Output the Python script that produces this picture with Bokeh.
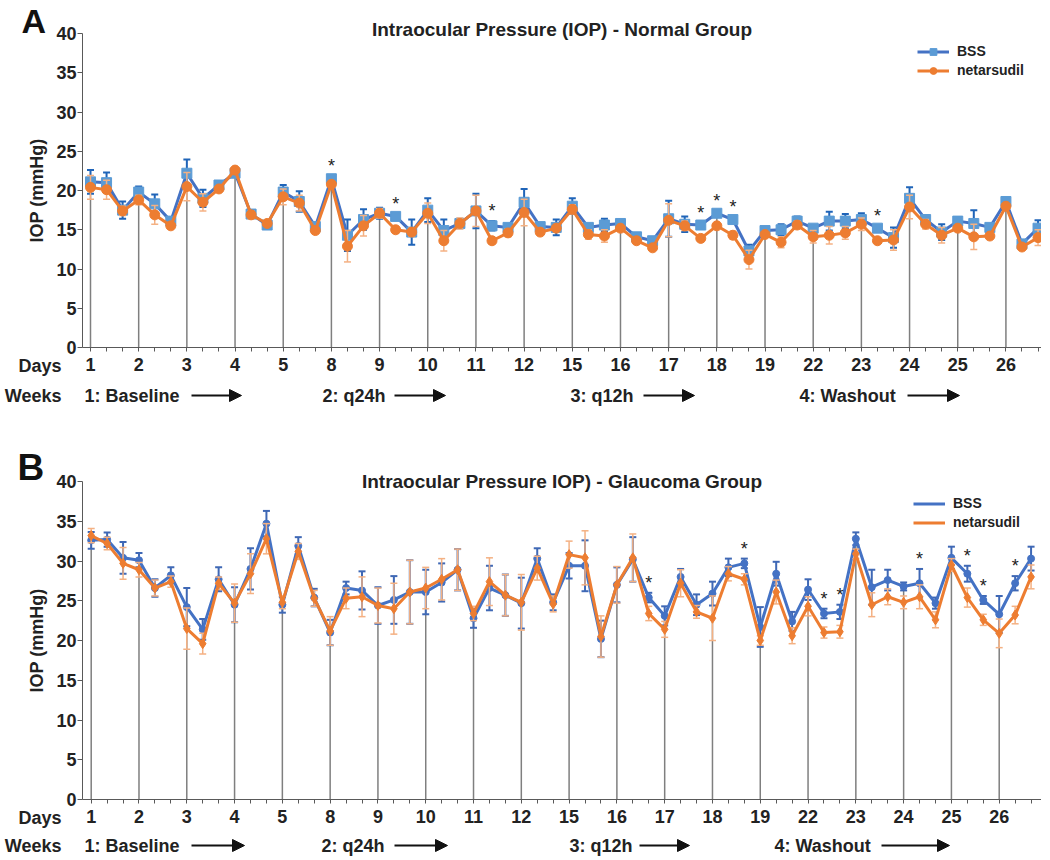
from bokeh.plotting import figure
from bokeh.models import (ColumnDataSource, FixedTicker, Label, Arrow, NormalHead,
                          Legend, LegendItem, Range1d)
from bokeh.layouts import column
from bokeh.embed import file_html
from bokeh.resources import INLINE
from bokeh.core.properties import value

FONT = "Liberation Sans"

# ---------------- data ----------------
days = [1, 2, 3, 4, 5, 8, 9, 10, 11, 12, 15, 16, 17, 18, 19, 22, 23, 24, 25, 26]
weeks = ["1: Baseline", "2: q24h", "3: q12h", "4: Washout"]
series_names = ["BSS", "netarsudil"]

# Panel A - Normal group (3 readings per day)
a_bss = [21.1, 21.0, 17.5, 19.8, 18.3, 16.1, 22.2, 19.0, 20.7, 22.2,
         17.0, 15.6, 19.8, 18.6, 15.4, 21.5, 14.3, 16.3, 17.1, 16.7,
         14.7, 17.5, 14.9, 15.8, 17.4, 15.5, 15.3, 18.5, 15.4, 15.3,
         18.0, 15.3, 15.6, 15.8, 14.1, 13.6, 16.4, 15.7, 15.6, 17.1,
         16.3, 12.3, 14.9, 15.0, 16.1, 15.2, 16.1, 16.1, 16.3, 15.2,
         14.0, 19.0, 16.3, 14.7, 16.1, 15.8, 15.3, 18.6, 13.2, 15.2]
a_bss_err = [1.5, 1.3, 1.1, 0.7, 1.2, 0.3, 1.75, 1.1, 0.3, 0.4,
             0.5, 0.3, 0.9, 1.3, 0.4, 0.3, 2.0, 1.3, 0.7, 0.3,
             1.6, 1.5, 1.4, 0.6, 2.2, 0.6, 0.4, 1.7, 0.3, 1.0,
             1.0, 0.4, 0.8, 0.3, 0.3, 0.3, 2.3, 1.0, 0.3, 0.3,
             0.3, 0.8, 0.4, 0.7, 0.6, 0.3, 1.2, 0.9, 0.8, 0.3,
             1.3, 1.4, 0.5, 1.0, 0.3, 1.7, 0.3, 0.3, 0.3, 1.0]
a_net = [20.4, 20.1, 17.4, 18.8, 16.9, 15.5, 20.5, 18.5, 20.2, 22.6,
         16.9, 15.8, 19.2, 18.4, 14.9, 20.8, 12.9, 15.5, 17.1, 15.0,
         14.7, 17.1, 13.6, 15.8, 17.4, 13.6, 14.6, 17.2, 14.7, 15.2,
         17.6, 14.4, 14.2, 15.2, 13.6, 12.7, 16.2, 15.5, 13.9, 15.5,
         14.3, 11.2, 14.4, 13.4, 15.6, 14.1, 14.3, 14.6, 15.7, 13.6,
         13.7, 17.9, 15.7, 14.3, 15.2, 14.1, 14.2, 18.0, 12.8, 14.0]
a_net_err = [1.5, 1.2, 0.6, 0.6, 1.2, 0.3, 1.8, 1.1, 0.3, 0.3,
             0.5, 0.3, 1.0, 1.0, 0.4, 0.3, 2.0, 1.3, 0.6, 0.4,
             0.5, 1.3, 1.3, 0.7, 2.0, 0.4, 0.5, 1.7, 0.3, 0.3,
             0.6, 0.6, 0.8, 0.3, 0.3, 0.3, 2.1, 0.6, 0.4, 0.3,
             0.5, 1.2, 0.3, 0.7, 0.5, 0.8, 1.1, 0.8, 0.8, 0.3,
             1.3, 1.5, 0.6, 1.0, 0.3, 1.6, 0.4, 0.3, 0.4, 1.0]
a_sig = [15, 19, 25, 38, 39, 40, 49]

# Panel B - Glaucoma group
b_bss = [32.6, 32.7, 30.4, 30.1, 26.6, 28.2, 24.2, 21.4, 27.7, 24.5,
         29.0, 34.7, 24.5, 31.9, 25.4, 21.0, 26.6, 26.3, 24.4, 25.1,
         26.1, 26.1, 27.3, 28.9, 22.8, 26.6, 25.7, 24.7, 30.3, 24.8,
         29.4, 29.4, 20.2, 27.0, 30.2, 25.4, 23.1, 28.0, 24.5, 25.9,
         29.2, 29.7, 21.7, 28.4, 22.4, 26.4, 23.4, 23.6, 32.8, 26.7,
         27.6, 26.8, 27.2, 24.7, 30.4, 28.4, 25.1, 23.3, 27.2, 30.3]
b_bss_err = [1.05, 0.9, 2.0, 0.9, 1.1, 1.0, 2.4, 1.3, 1.5, 2.2,
             2.6, 1.6, 1.0, 1.1, 1.1, 1.6, 0.8, 2.4, 2.3, 3.0,
             4.0, 2.8, 2.4, 2.6, 1.2, 2.8, 2.6, 3.2, 1.3, 1.0,
             1.6, 3.2, 2.3, 2.2, 2.8, 0.6, 1.2, 1.0, 1.3, 1.5,
             1.1, 0.6, 2.5, 1.5, 1.2, 1.3, 0.6, 0.9, 0.8, 2.2,
             1.3, 0.5, 1.8, 0.7, 1.4, 1.0, 0.5, 2.3, 0.9, 1.5]
b_net = [33.2, 32.2, 29.7, 28.9, 26.6, 27.4, 21.5, 19.6, 27.2, 24.7,
         28.4, 32.8, 24.8, 31.2, 25.3, 21.2, 25.3, 25.5, 24.4, 24.0,
         26.1, 26.6, 27.7, 28.9, 23.4, 27.4, 25.7, 24.8, 29.1, 24.6,
         30.8, 30.4, 20.5, 27.0, 30.4, 23.4, 21.4, 27.2, 23.6, 22.8,
         28.4, 27.7, 20.0, 26.1, 20.6, 24.3, 21.0, 21.1, 30.9, 24.5,
         25.5, 24.8, 25.5, 22.6, 29.5, 25.4, 22.6, 20.9, 23.2, 28.0]
b_net_err = [0.9, 0.8, 2.0, 0.9, 1.0, 0.7, 2.6, 1.3, 0.8, 2.4,
             2.5, 1.9, 0.8, 1.0, 1.0, 1.8, 1.3, 2.5, 2.2, 3.2,
             4.0, 2.6, 2.6, 2.6, 0.9, 3.0, 2.6, 3.5, 1.5, 1.0,
             1.7, 3.4, 2.6, 2.3, 3.0, 0.9, 1.0, 1.7, 0.8, 2.8,
             0.9, 0.7, 0.6, 1.5, 1.0, 1.2, 0.7, 0.8, 0.6, 1.5,
             1.0, 0.8, 1.5, 1.0, 0.8, 1.2, 0.7, 1.8, 1.1, 1.5]
b_sig = [35, 41, 46, 47, 52, 55, 56, 58]

READINGS_PER_DAY = 3
TXT = "#222222"


def make_panel(letter, title, bss, bss_err, net, net_err, sig, L):
    n = len(bss)
    idx = list(range(n))
    top, H, left, W = L["top"], L["H"], 1, 1041

    def dx(px):
        return (px - L["x0"]) / L["step"]

    def dy(py):
        return (L["y0"] - py) / L["ypx"]

    p = figure(frame_width=W, frame_height=H,
               min_border_left=0, min_border_right=0,
               min_border_top=0, min_border_bottom=0,
               x_range=Range1d(dx(left), dx(left + W)),
               y_range=Range1d(dy(top + H), dy(top)),
               toolbar_location=None, output_backend="svg",
               background_fill_color="white", border_fill_color="white")
    p.outline_line_color = None
    p.xgrid.visible = False
    p.ygrid.visible = False

    x_axis_start = dx(83)
    x_axis_end = dx(1042)

    # y axis
    ya = p.yaxis[0]
    ya.fixed_location = x_axis_start
    ya.bounds = (0, 40)
    ya.ticker = FixedTicker(ticks=list(range(0, 41, 5)))
    ya.minor_tick_line_color = None
    ya.major_tick_in = 0
    ya.major_tick_out = 5
    ya.major_label_standoff = 1
    ya.axis_line_color = "#595959"
    ya.major_tick_line_color = "#595959"
    ya.major_label_text_font = FONT
    ya.major_label_text_font_style = "bold"
    ya.major_label_text_font_size = "18px"
    ya.major_label_text_color = TXT
    ya.axis_label = "IOP (mmHg)"
    ya.axis_label_text_font = FONT
    ya.axis_label_text_font_style = "bold"
    ya.axis_label_text_font_size = "18px"
    ya.axis_label_text_color = TXT
    ya.axis_label_standoff = 6

    # x axis (days)
    xa = p.xaxis[0]
    xa.fixed_location = 0
    xa.bounds = (x_axis_start, x_axis_end)
    xa.ticker = FixedTicker(ticks=idx)
    xa.major_label_overrides = {
        i: (str(days[i // READINGS_PER_DAY]) if i % READINGS_PER_DAY == 0 else "")
        for i in idx}
    xa.minor_tick_line_color = None
    xa.major_tick_in = 0
    xa.major_tick_out = 4
    xa.axis_line_color = "#595959"
    xa.major_tick_line_color = "#595959"
    xa.major_label_standoff = 6
    xa.major_label_text_font = FONT
    xa.major_label_text_font_style = "bold"
    xa.major_label_text_font_size = "18px"
    xa.major_label_text_color = TXT

    # drop lines at first reading of each day
    dl_x = [i for i in idx if i % READINGS_PER_DAY == 0]
    dl_top = [max(bss[i], net[i]) for i in dl_x]
    p.segment(x0=dl_x, y0=[0] * len(dl_x), x1=dl_x, y1=dl_top,
              line_color="#7F7F7F", line_width=1.5)

    st = L["style"]
    renderers = {}
    for name, vals, errs in (("BSS", bss, bss_err), ("netarsudil", net, net_err)):
        s = st[name]
        lo = [v - e for v, e in zip(vals, errs)]
        hi = [v + e for v, e in zip(vals, errs)]
        src = ColumnDataSource(dict(x=idx, y=vals, lo=lo, hi=hi))
        p.segment(x0="x", y0="lo", x1="x", y1="hi", source=src,
                  line_color=s["err"], line_width=s["err_w"])
        p.scatter(x="x", y="lo", source=src, marker="dash", size=7,
                  line_color=s["err"], line_width=s["err_w"])
        p.scatter(x="x", y="hi", source=src, marker="dash", size=7,
                  line_color=s["err"], line_width=s["err_w"])
        ln = p.line(x="x", y="y", source=src, line_color=s["line"], line_width=3)
        mk = p.scatter(x="x", y="y", source=src, marker=s["marker"], size=s["size"],
                       fill_color=s["mfill"], line_color=s["mfill"])
        renderers[name] = (ln, mk)

    # significance asterisks
    sig_y = [max(bss[i] + bss_err[i], net[i] + net_err[i]) for i in sig]
    p.text(x=sig, y=sig_y, text=["*"] * len(sig), text_align="center",
           text_baseline="bottom", text_font=value(FONT), text_font_size="18px",
           text_color=TXT)

    # legend
    if L["legend_markers"]:
        items = [LegendItem(label="BSS", renderers=list(renderers["BSS"])),
                 LegendItem(label="netarsudil", renderers=list(renderers["netarsudil"]))]
    else:
        dummy = p.scatter(x=[], y=[], marker="circle", size=9,
                          fill_color="#ED7D31", line_color="#ED7D31")
        items = [LegendItem(label="BSS", renderers=[renderers["BSS"][0]]),
                 LegendItem(label="netarsudil", renderers=[renderers["netarsudil"][0], dummy])]
    lx, ly_top = L["legend_xy"]
    leg_h = 17 * 2 + 2
    leg = Legend(items=items, location=(lx - left, (top + H) - (ly_top + leg_h)),
                 background_fill_alpha=0,
                 border_line_alpha=0, padding=0, margin=0, spacing=2,
                 glyph_width=32, glyph_height=17, label_height=17, label_standoff=8,
                 label_text_font=FONT, label_text_font_style="bold",
                 label_text_font_size="14px", label_text_color=TXT)
    p.add_layout(leg)

    # title and panel letter
    p.add_layout(Label(x=(x_axis_start + x_axis_end) / 2, y=dy(L["title_y"]), text=title,
                       text_align="center", text_baseline="middle",
                       text_font=FONT, text_font_style="bold",
                       text_font_size="19px", text_color=TXT))
    p.add_layout(Label(x=dx(L["letter_x"]), y=dy(L["letter_y"]), text=letter,
                       text_align="left", text_baseline="middle",
                       text_font=FONT, text_font_style="bold",
                       text_font_size=L["letter_size"], text_color="#111111"))

    # row headers
    for txt, py in (("Days", L["days_y"]), ("Weeks", L["weeks_y"])):
        p.add_layout(Label(x=dx(62), y=dy(py), text=txt, text_align="right",
                           text_baseline="middle", text_font=FONT,
                           text_font_style="bold", text_font_size="18px",
                           text_color=TXT))
    # week labels with arrows
    for wk, tx, (ax0, ax1) in zip(weeks, L["week_x"], L["week_arrows"]):
        p.add_layout(Label(x=dx(tx), y=dy(L["weeks_y"]), text=wk, text_align="left",
                           text_baseline="middle", text_font=FONT,
                           text_font_style="bold", text_font_size="18px",
                           text_color=TXT))
        p.add_layout(Arrow(x_start=dx(ax0), y_start=dy(L["weeks_y"]),
                           x_end=dx(ax1), y_end=dy(L["weeks_y"]),
                           line_color="#111111", line_width=2,
                           end=NormalHead(size=12, fill_color="#111111",
                                          line_color="#111111")))
    return p


style_a = {
    "BSS": dict(line="#4472C4", marker="square", size=10, mfill="#5B9BD5",
                err="#1F64B8", err_w=2),
    "netarsudil": dict(line="#ED7D31", marker="circle", size=10, mfill="#ED7D31",
                       err="#F4B183", err_w=1.5),
}
style_b = {
    "BSS": dict(line="#4472C4", marker="circle", size=7, mfill="#4472C4",
                err="#3F68B5", err_w=2),
    "netarsudil": dict(line="#ED7D31", marker="diamond", size=10, mfill="#ED7D31",
                       err="#F4B183", err_w=1.5),
}

layout_a = dict(top=1, H=421, x0=91.0, step=16.06, y0=348.0, ypx=7.85,
                style=style_a, legend_markers=True, legend_xy=(918, 43.5),
                title_y=30, letter_x=22, letter_y=21, letter_size="34px",
                days_y=366, weeks_y=396,
                week_x=[85, 323, 571, 800],
                week_arrows=[(192, 242), (395, 446), (644, 695), (908, 960)])
layout_b = dict(top=422, H=436, x0=91.7, step=15.93, y0=800.0, ypx=7.95,
                style=style_b, legend_markers=False, legend_xy=(914, 495.5),
                title_y=482, letter_x=18, letter_y=468, letter_size="37px",
                days_y=818, weeks_y=846,
                week_x=[85, 322, 570, 775],
                week_arrows=[(192, 245), (395, 448), (640, 690), (882, 950)])

pa = make_panel("A", "Intraocular Pressure (IOP) - Normal Group",
                a_bss, a_bss_err, a_net, a_net_err, a_sig, layout_a)
pb = make_panel("B", "Intraocular Pressure IOP) - Glaucoma Group",
                b_bss, b_bss_err, b_net, b_net_err, b_sig, layout_b)

page = column(pa, pb, spacing=0)
open("out.html", "w").write(file_html(page, INLINE))
